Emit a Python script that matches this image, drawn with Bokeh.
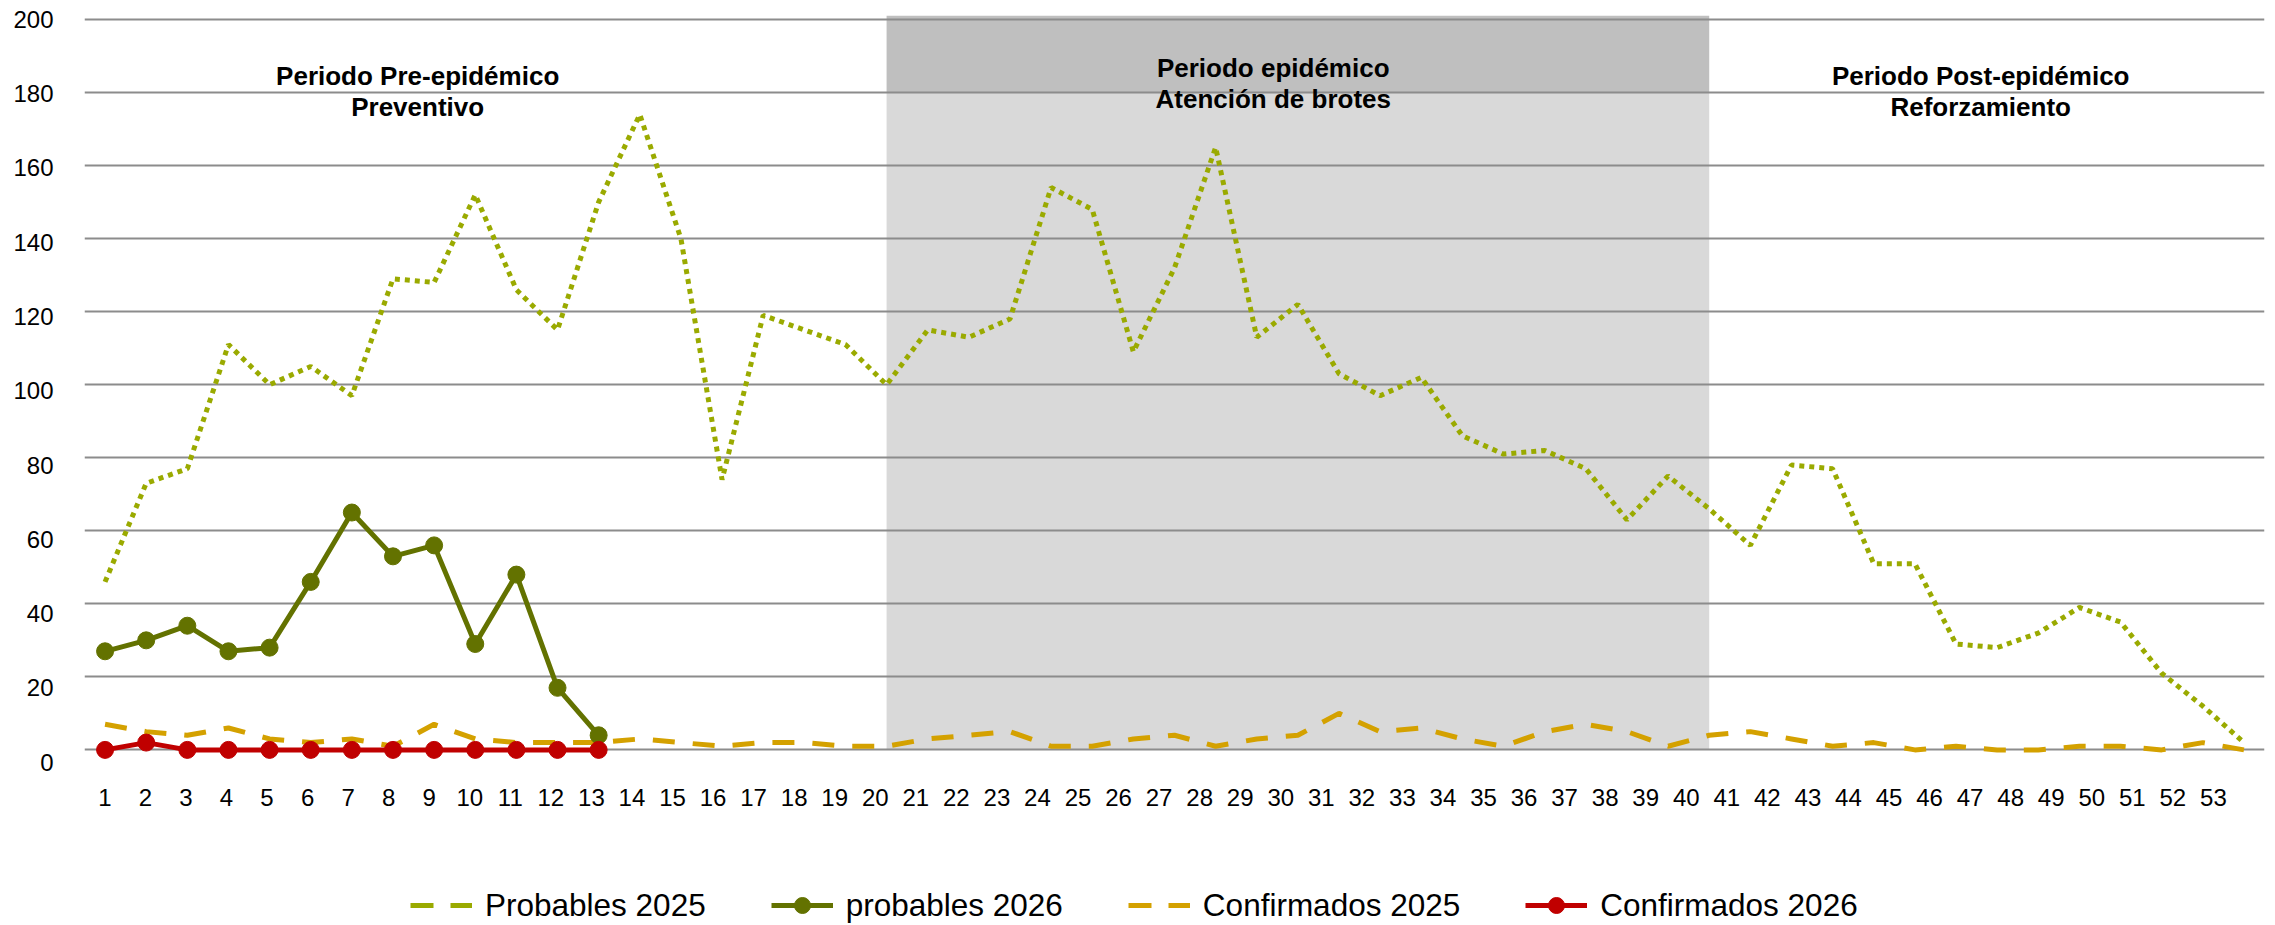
from bokeh.plotting import figure
from bokeh.models import Range1d, FixedTicker, Legend, LegendItem
from bokeh.layouts import column
from bokeh.core.properties import value
from bokeh.embed import file_html
from bokeh.resources import INLINE

# ---------------- data ----------------
weeks = list(range(1, 54))
probables_2025 = [46, 73, 77, 111, 100, 105, 97, 129, 128, 152,
                  126, 115, 150, 174, 140, 74, 119, 115, 111, 100,
                  115, 113, 118, 154, 148, 109, 132, 165, 113, 122,
                  103, 97, 102, 86, 81, 82, 77, 63, 75, 66,
                  56, 78, 77, 51, 51, 29, 28, 32, 39, 35,
                  21, 12, 2]
confirmados_2025 = [7, 5, 4, 6, 3, 2, 3, 1, 7, 3,
                    2, 2, 2, 3, 2, 1, 2, 2, 1, 1,
                    3, 4, 5, 1, 1, 3, 4, 1, 3, 4,
                    10, 5, 6, 3, 1, 5, 7, 5, 1, 4,
                    5, 3, 1, 2, 0, 1, 0, 0, 1, 1,
                    0, 2, 0]
weeks_2026 = list(range(1, 14))
probables_2026 = [27, 30, 34, 27, 28, 46, 65, 53, 56, 29, 48, 17, 4]
confirmados_2026 = [0, 2, 0, 0, 0, 0, 0, 0, 0, 0, 0, 0, 0]

y_ticks = list(range(0, 201, 20))
series_names = ["Probables 2025", "probables 2026", "Confirmados 2025", "Confirmados 2026"]
period_titles = ["Periodo Pre-epidémico", "Periodo epidémico", "Periodo Post-epidémico"]
period_subtitles = ["Preventivo", "Atención de brotes", "Reforzamiento"]
epidemic_period = [20, 40]      # weeks bounding the epidemic period
header_band_from = 180          # value where the dark header band starts

# ---------------- layout / style ----------------
FONT = "Liberation Sans"
C_LIME = "#9AAA00"
C_OLIVE = "#637200"
C_GOLD = "#D4A100"
C_RED = "#C00000"
Y_MIN, Y_MAX = -4.0, 201.1
W = 2272

title_x = [8.6, 29.4, 46.6]
title_y = [184.5, 186.7, 184.5]
subtitle_y = [176.0, 178.2, 176.0]

p = figure(frame_width=2180, frame_height=749,
           min_border_left=84, min_border_right=8, min_border_top=15, min_border_bottom=70,
           x_range=Range1d(0.5, 53.5), y_range=Range1d(Y_MIN, Y_MAX),
           output_backend="svg", toolbar_location=None,
           outline_line_color=None, background_fill_color="white", border_fill_color="white")
# the tick labels of the original sit on a slightly different scale than the plot area
p.extra_x_ranges = {"labels": Range1d(0.4994, 54.26)}
p.extra_y_ranges = {"labels": Range1d(-0.62, 201.0)}

# shaded epidemic period (drawn beneath the grid)
p.quad(left=[epidemic_period[0]], right=[epidemic_period[1]], bottom=[0], top=[header_band_from],
       fill_color="#D9D9D9", line_color=None, level="image")
p.quad(left=[epidemic_period[0]], right=[epidemic_period[1]], bottom=[header_band_from], top=[Y_MAX],
       fill_color="#BFBFBF", line_color=None, level="image")

# series
p.line(weeks, confirmados_2025, line_color=C_GOLD, line_width=5, line_dash="22 18")
p.line(weeks, probables_2025, line_color=C_LIME, line_width=5, line_dash="5 5")
p.line(weeks_2026, probables_2026, line_color=C_OLIVE, line_width=5)
p.scatter(weeks_2026, probables_2026, size=17, fill_color=C_OLIVE, line_color=C_OLIVE)
p.line(weeks_2026, confirmados_2026, line_color=C_RED, line_width=5)
p.scatter(weeks_2026, confirmados_2026, size=17, fill_color=C_RED, line_color=C_RED)

# period titles
p.text(x=title_x, y=title_y, text=period_titles, text_font=value(FONT), text_font_style="bold",
       text_font_size="26px", text_align="center", text_baseline="middle", text_color="black")
p.text(x=title_x, y=subtitle_y, text=period_subtitles, text_font=value(FONT), text_font_style="bold",
       text_font_size="26px", text_align="center", text_baseline="middle", text_color="black")

# axes & grid
p.xaxis.ticker = FixedTicker(ticks=weeks)
p.yaxis.ticker = FixedTicker(ticks=y_ticks)
p.xaxis[0].x_range_name = "labels"
p.yaxis[0].y_range_name = "labels"
for ax in (p.xaxis[0], p.yaxis[0]):
    ax.axis_line_color = None
    ax.major_tick_line_color = None
    ax.minor_tick_line_color = None
    ax.major_label_text_font = FONT
    ax.major_label_text_font_size = "24px"
    ax.major_label_text_color = "black"
p.xaxis.major_label_standoff = 18
p.yaxis.major_label_standoff = 25
p.xgrid.visible = False
p.ygrid.ticker = FixedTicker(ticks=y_ticks)
p.ygrid.y_range_name = "default"
p.ygrid.grid_line_color = "#8C8C8C"
p.ygrid.grid_line_width = 2

# ---------------- legend strip ----------------
# The strip carries the same series (out of its visible range) so that the
# legend entries are backed by real renderers; only the legend is seen.
lg = figure(width=W, height=91, x_range=Range1d(-10, -9), y_range=Range1d(-10, -9),
            x_axis_type=None, y_axis_type=None, min_border=0,
            output_backend="svg", toolbar_location=None, outline_line_color=None,
            background_fill_color="white", border_fill_color="white")
k_prob25 = lg.line(weeks, probables_2025, line_color=C_LIME, line_width=5, line_dash="23 17")
k_prob26 = lg.line(weeks_2026, probables_2026, line_color=C_OLIVE, line_width=5)
k_prob26_m = lg.scatter(weeks_2026, probables_2026, size=17, fill_color=C_OLIVE, line_color=C_OLIVE)
k_conf25 = lg.line(weeks, confirmados_2025, line_color=C_GOLD, line_width=5, line_dash="23 17")
k_conf26 = lg.line(weeks_2026, confirmados_2026, line_color=C_RED, line_width=5)
k_conf26_m = lg.scatter(weeks_2026, confirmados_2026, size=17, fill_color=C_RED, line_color=C_RED)

legend = Legend(items=[
    LegendItem(label=series_names[0], renderers=[k_prob25]),
    LegendItem(label=series_names[1], renderers=[k_prob26, k_prob26_m]),
    LegendItem(label=series_names[2], renderers=[k_conf25]),
    LegendItem(label=series_names[3], renderers=[k_conf26, k_conf26_m]),
], orientation="horizontal", location=(326, 0), glyph_width=62, glyph_height=40,
   label_standoff=13, spacing=65, padding=0, margin=0, border_line_color=None,
   background_fill_alpha=0, label_text_font=FONT, label_text_font_size="31.5px",
   label_text_color="black")
lg.add_layout(legend)

layout = column(p, lg, spacing=0)
open("out.html", "w").write(file_html(layout, INLINE))
